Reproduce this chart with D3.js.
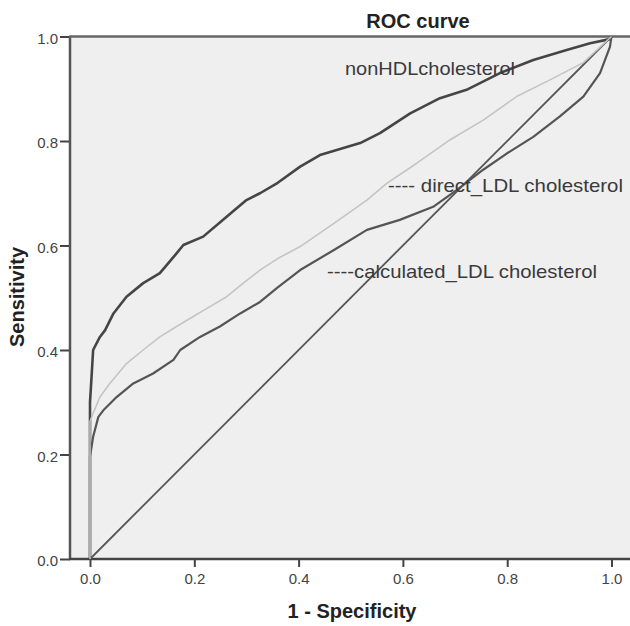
<!DOCTYPE html>
<html>
<head>
<meta charset="utf-8">
<script src="https://cdn.jsdelivr.net/npm/d3@7/dist/d3.min.js"></script>
<style>
  html, body { margin: 0; padding: 0; background: #fff; }
  svg { display: block; font-family: "Liberation Sans", Arial, sans-serif; }
</style>
</head>
<body>
<svg id="chart" width="630" height="626"></svg>
<script>
// ---- Data ----
const tickValues = [0, 0.2, 0.4, 0.6, 0.8, 1.0];

const nonHDL_fpr = [0, 0, 0.003, 0.006, 0.019, 0.029, 0.045, 0.07, 0.102, 0.134, 0.166, 0.179, 0.217, 0.262, 0.30, 0.326, 0.36, 0.403, 0.441, 0.518, 0.556, 0.614, 0.671, 0.722, 0.786, 0.85, 0.914, 0.959, 0.997, 1];
const nonHDL_tpr = [0, 0.30, 0.349, 0.40, 0.425, 0.438, 0.47, 0.502, 0.528, 0.547, 0.585, 0.601, 0.617, 0.655, 0.687, 0.70, 0.72, 0.751, 0.773, 0.796, 0.815, 0.853, 0.882, 0.898, 0.93, 0.955, 0.974, 0.987, 0.995, 1];

const direct_fpr = [0, 0, 0.006, 0.019, 0.038, 0.07, 0.102, 0.134, 0.166, 0.198, 0.23, 0.262, 0.294, 0.326, 0.36, 0.403, 0.467, 0.531, 0.569, 0.626, 0.69, 0.754, 0.818, 0.882, 0.946, 1];
const direct_tpr = [0, 0.263, 0.279, 0.31, 0.336, 0.374, 0.40, 0.425, 0.445, 0.464, 0.483, 0.502, 0.528, 0.553, 0.575, 0.598, 0.642, 0.687, 0.719, 0.757, 0.802, 0.84, 0.885, 0.917, 0.95, 1];

const calc_fpr = [0, 0, 0.006, 0.016, 0.026, 0.051, 0.083, 0.121, 0.16, 0.173, 0.211, 0.249, 0.288, 0.326, 0.36, 0.403, 0.467, 0.531, 0.594, 0.658, 0.703, 0.754, 0.799, 0.85, 0.901, 0.946, 0.978, 0.997, 1];
const calc_tpr = [0, 0.196, 0.234, 0.272, 0.285, 0.31, 0.336, 0.355, 0.381, 0.40, 0.425, 0.445, 0.47, 0.492, 0.52, 0.553, 0.591, 0.63, 0.649, 0.674, 0.706, 0.745, 0.776, 0.808, 0.847, 0.885, 0.93, 0.98, 1];

const ref_fpr = [0, 1];
const ref_tpr = [0, 1];

const seriesLabels = ["nonHDLcholesterol", "---- direct_LDL cholesterol", "----calculated_LDL cholesterol"];

// ---- Layout ----
const svg = d3.select("#chart");
const frameLeft = 70, frameRight = 630, frameTop = 36.5, frameBottom = 559;
const x = d3.scaleLinear().domain([0, 1]).range([90, 611.5]);
const y = d3.scaleLinear().domain([0, 1]).range([frameBottom, frameTop]);

// plot background
svg.append("rect")
  .attr("x", frameLeft).attr("y", frameTop)
  .attr("width", frameRight - frameLeft).attr("height", frameBottom - frameTop)
  .attr("fill", "#efefef");

// axes
const xAxis = d3.axisBottom(x).tickValues(tickValues).tickFormat(d3.format(".1f"))
  .tickSizeOuter(0).tickSizeInner(8).tickPadding(6);
const gx = svg.append("g").attr("transform", `translate(0,${frameBottom})`).call(xAxis);
gx.select(".domain").remove();

const yAxis = d3.axisLeft(y).tickValues(tickValues).tickFormat(d3.format(".1f"))
  .tickSizeOuter(0).tickSizeInner(10).tickPadding(2);
const gy = svg.append("g").attr("transform", `translate(${frameLeft},0)`).call(yAxis);
gy.select(".domain").remove();

[gx, gy].forEach(g => {
  g.selectAll(".tick line").attr("stroke", "#444").attr("stroke-width", 2);
  g.selectAll(".tick text").attr("fill", "#444").attr("font-size", 15)
    .attr("font-family", "'Liberation Sans', Arial, sans-serif");
});
gy.selectAll(".tick text").attr("dy", "0.45em");

// frame lines
svg.append("line").attr("x1", frameLeft).attr("x2", frameLeft)
  .attr("y1", frameTop).attr("y2", frameBottom)
  .attr("stroke", "#555").attr("stroke-width", 2.5);
svg.append("line").attr("x1", frameLeft - 1).attr("x2", frameRight)
  .attr("y1", frameBottom).attr("y2", frameBottom)
  .attr("stroke", "#444").attr("stroke-width", 2.5);
svg.append("line").attr("x1", frameLeft - 1).attr("x2", frameRight)
  .attr("y1", frameTop).attr("y2", frameTop)
  .attr("stroke", "#666").attr("stroke-width", 2.5);

// curves
const line = d3.line().x(d => x(d[0])).y(d => y(d[1]));
const zip = (a, b) => a.map((v, i) => [v, b[i]]);

svg.append("path").datum(zip(ref_fpr, ref_tpr)).attr("d", line)
  .attr("fill", "none").attr("stroke", "#555").attr("stroke-width", 1.8);
svg.append("path").datum(zip(nonHDL_fpr, nonHDL_tpr)).attr("d", line)
  .attr("fill", "none").attr("stroke", "#454545").attr("stroke-width", 2.6).attr("stroke-linejoin", "round");
svg.append("path").datum(zip(calc_fpr, calc_tpr)).attr("d", line)
  .attr("fill", "none").attr("stroke", "#555").attr("stroke-width", 2.2).attr("stroke-linejoin", "round");
svg.append("path").datum(zip(direct_fpr, direct_tpr)).attr("d", line)
  .attr("fill", "none").attr("stroke", "#c4c4c4").attr("stroke-width", 1.6).attr("stroke-linejoin", "round");

// series labels
const labelPos = [
  { x: 345, y: 75, w: 170 },
  { x: 388, y: 192, w: 235 },
  { x: 327, y: 278, w: 270 }
];
seriesLabels.forEach((t, i) => {
  svg.append("text").attr("x", labelPos[i].x).attr("y", labelPos[i].y)
    .attr("font-size", 19).attr("fill", "#3a3a3a")
    .attr("textLength", labelPos[i].w).attr("lengthAdjust", "spacingAndGlyphs")
    .text(t);
});

// titles
svg.append("text").attr("x", 418).attr("y", 28).attr("text-anchor", "middle")
  .attr("font-size", 20).attr("font-weight", "bold").attr("fill", "#222")
  .text("ROC curve");
svg.append("text").attr("x", 352).attr("y", 618).attr("text-anchor", "middle")
  .attr("font-size", 20).attr("font-weight", "bold").attr("fill", "#222")
  .text("1 - Specificity");
svg.append("text").attr("transform", "translate(24,297) rotate(-90)").attr("text-anchor", "middle")
  .attr("font-size", 20).attr("font-weight", "bold").attr("fill", "#222")
  .text("Sensitivity");
</script>
</body>
</html>
